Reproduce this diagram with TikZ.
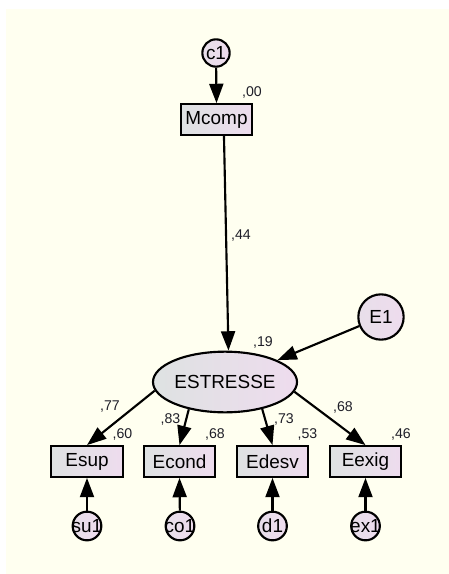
\documentclass[tikz,border=0pt]{standalone}
\usepackage{fontspec}
\setmainfont{Liberation Sans}
\usetikzlibrary{shapes.geometric,arrows.meta}
\definecolor{bgcol}{RGB}{255,255,240}
\definecolor{fillL}{RGB}{222,226,226}
\definecolor{fillR}{RGB}{238,220,238}
\definecolor{valcol}{RGB}{30,30,40}
\tikzset{
  nodefont/.style={font=\fontsize{14.2}{15}\selectfont},
  obs/.style={draw, line width=1.6pt, rectangle, minimum width=53.5pt, minimum height=23pt, inner sep=0pt, left color=fillL, right color=fillR, nodefont},
  lat/.style={draw, line width=1.6pt, ellipse, minimum width=108pt, minimum height=45.5pt, inner sep=0pt, left color=fillL, right color=fillR, nodefont},
  errc/.style={draw, line width=1.6pt, circle, minimum size=#1, inner sep=0pt, left color=fillL!40!fillR, right color=fillR, nodefont},
  val/.style={font=\fontsize{10.6}{12}\selectfont, inner sep=0pt, text=valcol},
  arr/.style={line width=1.6pt, -{Triangle[length=14.5pt,width=10.5pt]}},
}
\begin{document}
\begin{tikzpicture}[x=0.75pt,y=-0.75pt]
\useasboundingbox (0,0) rectangle (449,574);
\fill[white] (0,0) rectangle (449,574);
\fill[bgcol] (6,9) rectangle (449,574);

% nodes
\node[errc=20.5pt] (c1) at (216,53) {c1};
\node[obs] (mcomp) at (216.5,119.5) {Mcomp};
\node[lat] (estresse) at (225,382) {ESTRESSE};
\node[errc=34pt] (e1) at (381,317) {E1};

\node[obs] (esup) at (87,461.5) {Esup};
\node[obs] (econd) at (179.5,461.5) {Econd};
\node[obs] (edesv) at (272.5,461.5) {Edesv};
\node[obs] (eexig) at (365.5,461.5) {Eexig};

\node[errc=21.5pt] (su1) at (87,526) {\makebox[0pt]{su1}};
\node[errc=21.5pt] (co1) at (180,526) {\makebox[0pt]{co1}};
\node[errc=21.5pt] (d1) at (272.5,526) {\makebox[0pt]{d1}};
\node[errc=21.5pt] (ex1) at (365.5,526) {\makebox[0pt]{ex1}};

% connectors
\draw[arr] (c1) -- (mcomp.north);
\draw[arr] ([xshift=5.6pt]mcomp.south) -- ([xshift=2.6pt]estresse.north);
\draw[arr] (e1) -- (estresse);
\draw[arr] (estresse.187) -- (esup.north);
\draw[arr] (estresse.217) -- (econd.north);
\draw[arr] (estresse.324) -- (edesv.north);
\draw[arr] (estresse.352) -- (eexig.north);
\draw[arr] (su1) -- (esup.south);
\draw[arr] (co1) -- (econd.south);
\draw[arr] (d1) -- (edesv.south);
\draw[arr] (ex1) -- (eexig.south);

% values
\node[val] (v00) at (252,92) {,00};
\node[val] (v44) at (241,235.5) {,44};
\node[val] (v19) at (263,342) {,19};
\node[val] (v77) at (110,407) {,77};
\node[val] (v83) at (170.5,419) {,83};
\node[val] (v73) at (284,419) {,73};
\node[val] (v68a) at (343,407) {,68};
\node[val] (v60) at (122.5,434) {,60};
\node[val] (v68b) at (215,434) {,68};
\node[val] (v53) at (307.5,434) {,53};
\node[val] (v46) at (401,434) {,46};
\end{tikzpicture}
\end{document}
